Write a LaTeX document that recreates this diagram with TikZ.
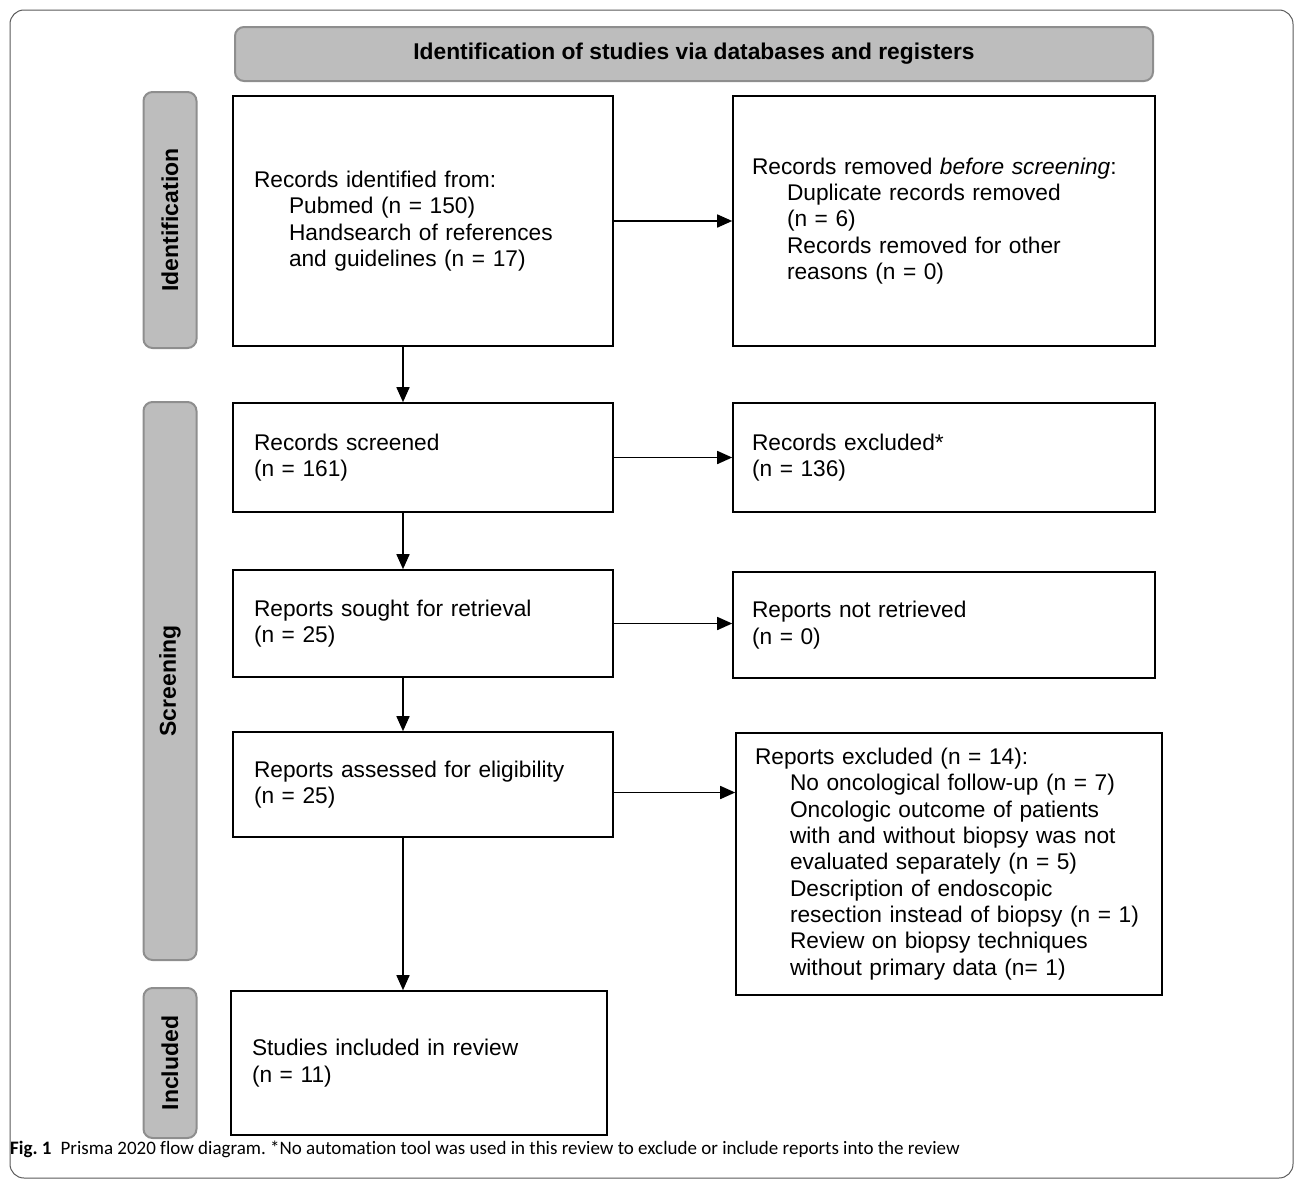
\documentclass[tikz,border=0pt]{standalone}
\usepackage{fontspec}
\setmainfont{Liberation Sans}
\newfontfamily\capfont[Ligatures=NoCommon]{Carlito}
\usetikzlibrary{arrows.meta}
\definecolor{lanegray}{HTML}{BDBDBD}
\definecolor{laneedge}{HTML}{8E8E8E}
\newcommand\pushin{\hspace*{35pt}}
\frenchspacing
\tikzset{
    flowbox/.style={draw=black, line width=1.6pt, align=left, inner xsep=21pt,
        font=\fontsize{22.7}{26.3}\selectfont},
    lane/.style={draw=laneedge, fill=lanegray, line width=2pt, rounded corners=9pt,
        font=\bfseries\fontsize{23}{27}\selectfont},
    arr/.style={line width=1.6pt, -{Triangle[length=15pt,width=13pt]}}
}
\begin{document}
\begin{tikzpicture}[x=1pt,y=-1pt]
            \useasboundingbox (0,0) rectangle (1295,1183);
            \draw [draw=gray!70!black, line width=1pt, rounded corners=14pt] (10,10) rectangle (1293,1178);
            % header and side lanes
            \node [lane, minimum width=918, minimum height=54, font=\bfseries\fontsize{22.8}{26}\selectfont] (head) at (694,54) {Identification of studies via databases and registers};
            \node [lane, rotate=90, minimum width=256, minimum height=53] (laneid) at (170,220) {Identification};
            \node [lane, rotate=90, minimum width=558, minimum height=53] (lanescr) at (170,681) {Screening};
            \node [lane, rotate=90, minimum width=150, minimum height=53] (laneinc) at (170,1063) {Included};
            % left column
            \node [flowbox, text width=338, minimum height=250] (ident) at (423,221) {Records identified from:\\
                \pushin Pubmed (n = 150)\\ \pushin Handsearch of references\\ \pushin and guidelines (n = 17)};
            \node [flowbox, text width=338, minimum height=109] (screen) at (423,457.5) {Records screened\\(n = 161)};
            \node [flowbox, text width=338, minimum height=107] (sought) at (423,623.5) {Reports sought for retrieval\\(n = 25)};
            \node [flowbox, text width=338, minimum height=105] (assess) at (423,784.5) {Reports assessed for eligibility\\(n = 25)};
            \node [flowbox, text width=334, minimum height=144] (incl) at (419,1063) {Studies included in review\\(n = 11)};
            % right column
            \node [flowbox, inner xsep=19pt, text width=384, minimum height=250] (removed) at (944,221) {Records removed \textit{before screening}:\\
                \pushin Duplicate records removed\\ \pushin (n = 6)\\ \pushin Records removed for other\\ \pushin reasons (n = 0)};
            \node [flowbox, inner xsep=19pt, text width=384, minimum height=109] (excl) at (944,457.5) {Records excluded*\\(n = 136)};
            \node [flowbox, inner xsep=19pt, text width=384, minimum height=106] (notret) at (944,625) {Reports not retrieved\\(n = 0)};
            \node [flowbox, inner xsep=19pt, text width=388, minimum height=262] (rexcl) at (949,864) {Reports excluded (n = 14):\\
                \pushin No oncological follow-up (n = 7)\\ \pushin Oncologic outcome of patients\\
                \pushin with and without biopsy was not\\ \pushin evaluated separately (n = 5)\\
                \pushin Description of endoscopic\\ \pushin resection instead of biopsy (n = 1)\\
                \pushin Review on biopsy techniques\\ \pushin without primary data (n= 1)};
            % connectors
            \coordinate (axis) at (403,0);
            \draw [arr] (ident.south -| axis) -- (screen.north -| axis);
            \draw [arr] (screen.south -| axis) -- (sought.north -| axis);
            \draw [arr] (sought.south -| axis) -- (assess.north -| axis);
            \draw [arr] (assess.south -| axis) -- (incl.north -| axis);
            \draw [arr] (ident.east) -- (removed.west);
            \draw [arr] (screen.east) -- (excl.west);
            \draw [arr] (sought.east) -- (sought.east -| notret.west);
            \draw [arr] ([yshift=-8pt]assess.east) -- ([yshift=-8pt]assess.east -| rexcl.west);
            \node [anchor=west, inner sep=0pt, font=\capfont\fontsize{19}{21}\selectfont] (cap) at (10,1149) {\textbf{Fig. 1}\hspace{9pt}Prisma 2020 flow diagram. *No automation tool was used in this review to exclude or include reports into the review};
\end{tikzpicture}
\end{document}
